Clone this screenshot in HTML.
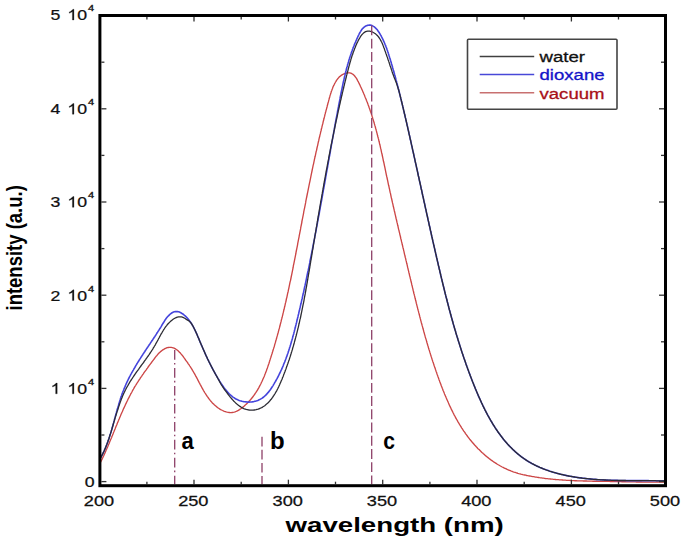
<!DOCTYPE html>
<html><head><meta charset="utf-8"><style>
html,body{margin:0;padding:0;background:#fff;overflow:hidden;width:685px;height:539px;}
svg{display:block;}
text{font-family:"Liberation Sans",sans-serif;}
.tl{font-size:15px;fill:#111;stroke:#111;stroke-width:0.25px;}
.xl{font-size:14px;fill:#111;stroke:#111;stroke-width:0.25px;}
.sup{font-size:9.3px;fill:#111;stroke:#111;stroke-width:0.35px;}
.lg{font-size:15px;}
.ab{font-size:24px;font-weight:bold;fill:#000;}
</style></head><body>
<svg width="685" height="539" viewBox="0 0 685 539">
<rect width="685" height="539" fill="#fff"/>
<g fill="none" stroke-linejoin="round">
<path d="M100.0,462.4 L100.7,461.9 L101.2,461.0 L101.6,460.1 L102.1,459.2 L102.5,458.3 L102.9,457.4 L103.3,456.5 L103.8,455.6 L104.2,454.7 L104.6,453.8 L105.0,452.9 L105.4,452.0 L105.8,451.0 L106.2,450.1 L106.6,449.2 L107.0,448.3 L107.4,447.4 L107.8,446.5 L108.2,445.5 L108.6,444.6 L109.0,443.7 L109.4,442.8 L109.7,441.8 L110.1,440.9 L110.5,440.0 L110.9,439.1 L111.3,438.2 L111.7,437.2 L112.0,436.3 L112.4,435.4 L112.8,434.4 L113.2,433.5 L113.5,432.6 L113.9,431.7 L114.3,430.7 L114.7,429.8 L115.1,428.9 L115.4,428.0 L115.8,427.0 L116.2,426.1 L116.6,425.2 L117.0,424.3 L117.3,423.3 L117.7,422.4 L118.1,421.5 L118.5,420.6 L118.9,419.6 L119.3,418.7 L119.6,417.8 L120.0,416.9 L120.4,416.0 L120.8,415.0 L121.2,414.1 L121.6,413.2 L122.0,412.3 L122.4,411.4 L122.8,410.4 L123.2,409.5 L123.6,408.6 L124.1,407.7 L124.5,406.8 L124.9,405.9 L125.3,405.0 L125.7,404.1 L126.2,403.2 L126.6,402.3 L127.0,401.4 L127.5,400.5 L127.9,399.6 L128.3,398.7 L128.8,397.8 L129.3,396.9 L129.7,396.0 L130.2,395.1 L130.6,394.2 L131.1,393.3 L131.6,392.5 L132.1,391.6 L132.5,390.7 L133.0,389.8 L133.5,389.0 L134.0,388.1 L134.5,387.2 L135.0,386.4 L135.6,385.5 L136.1,384.7 L136.6,383.8 L137.1,383.0 L137.7,382.1 L138.2,381.3 L138.8,380.4 L139.3,379.6 L139.9,378.8 L140.4,377.9 L141.0,377.1 L141.6,376.3 L142.1,375.5 L142.7,374.6 L143.3,373.8 L143.8,373.0 L144.4,372.2 L145.0,371.4 L145.6,370.6 L146.2,369.8 L146.8,368.9 L147.4,368.1 L147.9,367.3 L148.5,366.5 L149.1,365.7 L149.7,364.9 L150.3,364.1 L150.9,363.3 L151.5,362.5 L152.1,361.7 L152.7,360.9 L153.3,360.1 L153.9,359.3 L154.5,358.5 L155.1,357.7 L155.7,356.9 L156.3,356.1 L157.0,355.4 L157.6,354.6 L158.3,353.8 L159.0,353.1 L159.7,352.4 L160.4,351.7 L161.2,351.1 L162.0,350.5 L162.8,349.9 L163.7,349.4 L164.5,348.9 L165.4,348.4 L166.3,348.0 L167.3,347.7 L168.3,347.5 L169.3,347.4 L170.3,347.3 L171.3,347.4 L172.2,347.6 L173.2,347.9 L174.1,348.2 L175.0,348.7 L175.9,349.2 L176.7,349.7 L177.5,350.3 L178.3,351.0 L179.0,351.7 L179.7,352.4 L180.4,353.1 L181.0,353.9 L181.7,354.7 L182.3,355.4 L182.9,356.2 L183.5,357.0 L184.1,357.9 L184.7,358.7 L185.2,359.5 L185.8,360.3 L186.4,361.1 L187.0,361.9 L187.6,362.7 L188.1,363.6 L188.7,364.4 L189.3,365.2 L189.8,366.0 L190.4,366.9 L190.9,367.7 L191.5,368.6 L192.0,369.4 L192.5,370.3 L193.0,371.1 L193.5,372.0 L194.0,372.9 L194.5,373.7 L195.0,374.6 L195.5,375.5 L195.9,376.4 L196.4,377.2 L196.9,378.1 L197.4,379.0 L197.8,379.9 L198.3,380.8 L198.7,381.7 L199.2,382.6 L199.7,383.4 L200.1,384.3 L200.6,385.2 L201.1,386.1 L201.6,387.0 L202.0,387.9 L202.5,388.7 L203.0,389.6 L203.5,390.5 L204.0,391.3 L204.5,392.2 L205.0,393.0 L205.6,393.9 L206.1,394.7 L206.7,395.6 L207.2,396.4 L207.8,397.2 L208.4,398.0 L209.0,398.8 L209.6,399.6 L210.2,400.4 L210.9,401.2 L211.5,401.9 L212.2,402.7 L212.9,403.4 L213.6,404.1 L214.3,404.8 L215.1,405.5 L215.8,406.1 L216.6,406.8 L217.4,407.4 L218.2,408.0 L219.0,408.5 L219.9,409.1 L220.7,409.6 L221.6,410.0 L222.5,410.5 L223.4,410.9 L224.3,411.3 L225.3,411.6 L226.2,411.9 L227.2,412.2 L228.2,412.4 L229.2,412.5 L230.2,412.6 L231.2,412.6 L232.2,412.5 L233.1,412.4 L234.1,412.2 L235.1,411.9 L236.0,411.5 L236.9,411.1 L237.8,410.7 L238.7,410.1 L239.5,409.6 L240.3,409.0 L241.2,408.5 L242.0,407.9 L242.7,407.2 L243.5,406.6 L244.3,406.0 L245.0,405.3 L245.8,404.6 L246.5,403.9 L247.2,403.2 L247.9,402.5 L248.6,401.8 L249.3,401.1 L250.0,400.3 L250.6,399.6 L251.3,398.8 L251.9,398.0 L252.5,397.3 L253.1,396.5 L253.7,395.7 L254.3,394.8 L254.9,394.0 L255.4,393.2 L256.0,392.4 L256.5,391.5 L257.1,390.7 L257.6,389.8 L258.1,388.9 L258.6,388.1 L259.1,387.2 L259.5,386.3 L260.0,385.4 L260.5,384.5 L260.9,383.7 L261.3,382.8 L261.8,381.8 L262.2,380.9 L262.6,380.0 L263.0,379.1 L263.4,378.2 L263.8,377.3 L264.2,376.4 L264.6,375.4 L264.9,374.5 L265.3,373.6 L265.7,372.6 L266.0,371.7 L266.4,370.8 L266.7,369.8 L267.0,368.9 L267.4,367.9 L267.7,367.0 L268.0,366.0 L268.4,365.1 L268.7,364.1 L269.0,363.2 L269.3,362.2 L269.6,361.3 L269.9,360.3 L270.2,359.4 L270.5,358.4 L270.8,357.5 L271.1,356.5 L271.4,355.6 L271.7,354.6 L272.0,353.7 L272.3,352.7 L272.6,351.8 L272.9,350.8 L273.2,349.8 L273.5,348.9 L273.8,347.9 L274.1,347.0 L274.4,346.0 L274.6,345.0 L274.9,344.1 L275.2,343.1 L275.5,342.2 L275.7,341.2 L276.0,340.2 L276.3,339.3 L276.6,338.3 L276.8,337.4 L277.1,336.4 L277.4,335.4 L277.6,334.5 L277.9,333.5 L278.2,332.5 L278.4,331.6 L278.7,330.6 L278.9,329.6 L279.2,328.7 L279.5,327.7 L279.7,326.7 L280.0,325.8 L280.2,324.8 L280.5,323.8 L280.7,322.9 L281.0,321.9 L281.2,320.9 L281.4,319.9 L281.7,319.0 L281.9,318.0 L282.2,317.0 L282.4,316.1 L282.7,315.1 L282.9,314.1 L283.1,313.1 L283.4,312.2 L283.6,311.2 L283.8,310.2 L284.1,309.3 L284.3,308.3 L284.5,307.3 L284.8,306.3 L285.0,305.4 L285.2,304.4 L285.4,303.4 L285.7,302.4 L285.9,301.5 L286.1,300.5 L286.3,299.5 L286.5,298.5 L286.8,297.6 L287.0,296.6 L287.2,295.6 L287.4,294.6 L287.6,293.6 L287.8,292.7 L288.1,291.7 L288.3,290.7 L288.5,289.7 L288.7,288.8 L288.9,287.8 L289.1,286.8 L289.3,285.8 L289.5,284.8 L289.7,283.9 L289.9,282.9 L290.1,281.9 L290.4,280.9 L290.6,280.0 L290.8,279.0 L291.0,278.0 L291.2,277.0 L291.4,276.0 L291.6,275.1 L291.8,274.1 L292.0,273.1 L292.2,272.1 L292.4,271.1 L292.6,270.1 L292.8,269.2 L293.0,268.2 L293.2,267.2 L293.3,266.2 L293.5,265.2 L293.7,264.3 L293.9,263.3 L294.1,262.3 L294.3,261.3 L294.5,260.3 L294.7,259.4 L294.9,258.4 L295.1,257.4 L295.3,256.4 L295.5,255.4 L295.7,254.4 L295.9,253.5 L296.0,252.5 L296.2,251.5 L296.4,250.5 L296.6,249.5 L296.8,248.6 L297.0,247.6 L297.2,246.6 L297.4,245.6 L297.6,244.6 L297.7,243.6 L297.9,242.7 L298.1,241.7 L298.3,240.7 L298.5,239.7 L298.7,238.7 L298.9,237.7 L299.1,236.8 L299.2,235.8 L299.4,234.8 L299.6,233.8 L299.8,232.8 L300.0,231.8 L300.2,230.9 L300.4,229.9 L300.6,228.9 L300.7,227.9 L300.9,226.9 L301.1,225.9 L301.3,225.0 L301.5,224.0 L301.7,223.0 L301.9,222.0 L302.0,221.0 L302.2,220.0 L302.4,219.1 L302.6,218.1 L302.8,217.1 L303.0,216.1 L303.2,215.1 L303.4,214.2 L303.6,213.2 L303.7,212.2 L303.9,211.2 L304.1,210.2 L304.3,209.2 L304.5,208.3 L304.7,207.3 L304.9,206.3 L305.1,205.3 L305.3,204.3 L305.5,203.4 L305.7,202.4 L305.8,201.4 L306.0,200.4 L306.2,199.4 L306.4,198.4 L306.6,197.5 L306.8,196.5 L307.0,195.5 L307.2,194.5 L307.4,193.5 L307.6,192.6 L307.8,191.6 L308.0,190.6 L308.2,189.6 L308.4,188.6 L308.6,187.6 L308.8,186.7 L309.0,185.7 L309.2,184.7 L309.4,183.7 L309.6,182.7 L309.8,181.8 L310.0,180.8 L310.2,179.8 L310.4,178.8 L310.6,177.8 L310.8,176.9 L311.0,175.9 L311.2,174.9 L311.4,173.9 L311.6,172.9 L311.8,172.0 L312.0,171.0 L312.2,170.0 L312.4,169.0 L312.6,168.1 L312.8,167.1 L313.0,166.1 L313.2,165.1 L313.5,164.1 L313.7,163.2 L313.9,162.2 L314.1,161.2 L314.3,160.2 L314.5,159.2 L314.7,158.3 L314.9,157.3 L315.2,156.3 L315.4,155.3 L315.6,154.4 L315.8,153.4 L316.0,152.4 L316.2,151.4 L316.5,150.5 L316.7,149.5 L316.9,148.5 L317.1,147.5 L317.3,146.6 L317.6,145.6 L317.8,144.6 L318.0,143.6 L318.2,142.6 L318.4,141.7 L318.7,140.7 L318.9,139.7 L319.1,138.7 L319.3,137.8 L319.6,136.8 L319.8,135.8 L320.0,134.9 L320.3,133.9 L320.5,132.9 L320.7,131.9 L321.0,131.0 L321.2,130.0 L321.4,129.0 L321.7,128.0 L321.9,127.1 L322.1,126.1 L322.4,125.1 L322.6,124.2 L322.9,123.2 L323.1,122.2 L323.3,121.2 L323.6,120.3 L323.8,119.3 L324.1,118.3 L324.3,117.4 L324.6,116.4 L324.8,115.4 L325.0,114.4 L325.3,113.5 L325.5,112.5 L325.8,111.5 L326.0,110.6 L326.3,109.6 L326.6,108.6 L326.8,107.7 L327.1,106.7 L327.3,105.7 L327.6,104.8 L327.8,103.8 L328.1,102.8 L328.4,101.9 L328.6,100.9 L328.9,99.9 L329.1,99.0 L329.4,98.0 L329.7,97.0 L329.9,96.1 L330.2,95.1 L330.5,94.2 L330.8,93.2 L331.1,92.3 L331.4,91.3 L331.8,90.4 L332.1,89.4 L332.5,88.5 L332.8,87.6 L333.2,86.6 L333.6,85.7 L334.1,84.8 L334.5,83.9 L335.0,83.0 L335.4,82.2 L336.0,81.3 L336.5,80.4 L337.1,79.6 L337.7,78.8 L338.3,78.1 L339.0,77.3 L339.7,76.6 L340.5,76.0 L341.3,75.4 L342.1,74.8 L343.0,74.3 L343.9,73.9 L344.8,73.5 L345.7,73.2 L346.7,73.0 L347.7,72.9 L348.7,72.8 L349.7,72.9 L350.7,73.2 L351.6,73.5 L352.5,74.0 L353.3,74.6 L354.0,75.2 L354.7,76.0 L355.3,76.8 L355.9,77.6 L356.5,78.4 L357.0,79.3 L357.4,80.2 L357.9,81.1 L358.4,81.9 L358.8,82.8 L359.2,83.7 L359.7,84.6 L360.1,85.5 L360.5,86.5 L361.0,87.4 L361.4,88.3 L361.8,89.2 L362.2,90.1 L362.6,91.0 L363.0,91.9 L363.4,92.8 L363.8,93.8 L364.2,94.7 L364.6,95.6 L364.9,96.5 L365.3,97.5 L365.7,98.4 L366.1,99.3 L366.4,100.2 L366.8,101.2 L367.2,102.1 L367.5,103.1 L367.9,104.0 L368.2,104.9 L368.6,105.9 L368.9,106.8 L369.2,107.7 L369.6,108.7 L369.9,109.6 L370.2,110.6 L370.5,111.5 L370.9,112.5 L371.2,113.4 L371.5,114.4 L371.8,115.3 L372.1,116.3 L372.4,117.2 L372.7,118.2 L373.0,119.1 L373.3,120.1 L373.6,121.1 L373.9,122.0 L374.2,123.0 L374.4,123.9 L374.7,124.9 L375.0,125.9 L375.3,126.8 L375.5,127.8 L375.8,128.8 L376.1,129.7 L376.3,130.7 L376.6,131.6 L376.8,132.6 L377.1,133.6 L377.3,134.6 L377.6,135.5 L377.8,136.5 L378.1,137.5 L378.3,138.4 L378.6,139.4 L378.8,140.4 L379.0,141.3 L379.3,142.3 L379.5,143.3 L379.7,144.3 L380.0,145.2 L380.2,146.2 L380.4,147.2 L380.6,148.2 L380.9,149.1 L381.1,150.1 L381.3,151.1 L381.5,152.1 L381.7,153.0 L382.0,154.0 L382.2,155.0 L382.4,156.0 L382.6,157.0 L382.8,157.9 L383.0,158.9 L383.2,159.9 L383.4,160.9 L383.6,161.8 L383.9,162.8 L384.1,163.8 L384.3,164.8 L384.5,165.8 L384.7,166.7 L384.9,167.7 L385.1,168.7 L385.3,169.7 L385.5,170.7 L385.7,171.6 L385.9,172.6 L386.1,173.6 L386.3,174.6 L386.5,175.5 L386.7,176.5 L387.0,177.5 L387.2,178.5 L387.4,179.5 L387.6,180.4 L387.8,181.4 L388.0,182.4 L388.2,183.4 L388.4,184.4 L388.6,185.3 L388.9,186.3 L389.1,187.3 L389.3,188.3 L389.5,189.2 L389.7,190.2 L389.9,191.2 L390.1,192.2 L390.4,193.1 L390.6,194.1 L390.8,195.1 L391.0,196.1 L391.2,197.1 L391.4,198.0 L391.7,199.0 L391.9,200.0 L392.1,201.0 L392.3,201.9 L392.5,202.9 L392.8,203.9 L393.0,204.9 L393.2,205.8 L393.4,206.8 L393.7,207.8 L393.9,208.8 L394.1,209.7 L394.3,210.7 L394.6,211.7 L394.8,212.7 L395.0,213.6 L395.2,214.6 L395.5,215.6 L395.7,216.6 L395.9,217.5 L396.1,218.5 L396.4,219.5 L396.6,220.5 L396.8,221.4 L397.0,222.4 L397.3,223.4 L397.5,224.4 L397.7,225.3 L398.0,226.3 L398.2,227.3 L398.4,228.3 L398.6,229.2 L398.9,230.2 L399.1,231.2 L399.3,232.1 L399.6,233.1 L399.8,234.1 L400.0,235.1 L400.3,236.0 L400.5,237.0 L400.7,238.0 L400.9,239.0 L401.2,239.9 L401.4,240.9 L401.6,241.9 L401.9,242.9 L402.1,243.8 L402.3,244.8 L402.6,245.8 L402.8,246.8 L403.0,247.7 L403.3,248.7 L403.5,249.7 L403.7,250.6 L404.0,251.6 L404.2,252.6 L404.4,253.6 L404.6,254.5 L404.9,255.5 L405.1,256.5 L405.3,257.5 L405.6,258.4 L405.8,259.4 L406.0,260.4 L406.3,261.4 L406.5,262.3 L406.7,263.3 L407.0,264.3 L407.2,265.2 L407.4,266.2 L407.6,267.2 L407.9,268.2 L408.1,269.1 L408.3,270.1 L408.6,271.1 L408.8,272.1 L409.0,273.0 L409.3,274.0 L409.5,275.0 L409.7,276.0 L410.0,276.9 L410.2,277.9 L410.4,278.9 L410.7,279.8 L410.9,280.8 L411.1,281.8 L411.4,282.8 L411.6,283.7 L411.8,284.7 L412.1,285.7 L412.3,286.7 L412.5,287.6 L412.8,288.6 L413.0,289.6 L413.2,290.5 L413.5,291.5 L413.7,292.5 L413.9,293.5 L414.2,294.4 L414.4,295.4 L414.7,296.4 L414.9,297.4 L415.1,298.3 L415.4,299.3 L415.6,300.3 L415.9,301.2 L416.1,302.2 L416.3,303.2 L416.6,304.1 L416.8,305.1 L417.1,306.1 L417.3,307.1 L417.6,308.0 L417.8,309.0 L418.1,310.0 L418.3,310.9 L418.6,311.9 L418.8,312.9 L419.1,313.8 L419.3,314.8 L419.6,315.8 L419.8,316.7 L420.1,317.7 L420.3,318.7 L420.6,319.6 L420.8,320.6 L421.1,321.6 L421.3,322.5 L421.6,323.5 L421.9,324.5 L422.1,325.4 L422.4,326.4 L422.7,327.4 L422.9,328.3 L423.2,329.3 L423.5,330.3 L423.7,331.2 L424.0,332.2 L424.3,333.2 L424.5,334.1 L424.8,335.1 L425.1,336.1 L425.3,337.0 L425.6,338.0 L425.9,338.9 L426.2,339.9 L426.5,340.9 L426.7,341.8 L427.0,342.8 L427.3,343.7 L427.6,344.7 L427.9,345.7 L428.2,346.6 L428.4,347.6 L428.7,348.5 L429.0,349.5 L429.3,350.4 L429.6,351.4 L429.9,352.4 L430.2,353.3 L430.5,354.3 L430.8,355.2 L431.1,356.2 L431.4,357.1 L431.7,358.1 L432.0,359.0 L432.3,360.0 L432.6,360.9 L432.9,361.9 L433.3,362.8 L433.6,363.8 L433.9,364.7 L434.2,365.7 L434.5,366.6 L434.8,367.6 L435.2,368.5 L435.5,369.5 L435.8,370.4 L436.1,371.4 L436.5,372.3 L436.8,373.3 L437.1,374.2 L437.5,375.2 L437.8,376.1 L438.1,377.0 L438.5,378.0 L438.8,378.9 L439.1,379.9 L439.5,380.8 L439.8,381.7 L440.2,382.7 L440.5,383.6 L440.9,384.5 L441.2,385.5 L441.6,386.4 L442.0,387.4 L442.3,388.3 L442.7,389.2 L443.0,390.2 L443.4,391.1 L443.8,392.0 L444.2,392.9 L444.5,393.9 L444.9,394.8 L445.3,395.7 L445.7,396.6 L446.1,397.6 L446.5,398.5 L446.9,399.4 L447.3,400.3 L447.7,401.2 L448.1,402.1 L448.5,403.1 L448.9,404.0 L449.3,404.9 L449.7,405.8 L450.1,406.7 L450.6,407.6 L451.0,408.5 L451.4,409.4 L451.9,410.3 L452.3,411.2 L452.8,412.1 L453.2,413.0 L453.7,413.9 L454.1,414.8 L454.6,415.7 L455.1,416.5 L455.5,417.4 L456.0,418.3 L456.5,419.2 L457.0,420.0 L457.5,420.9 L458.0,421.8 L458.5,422.6 L459.0,423.5 L459.5,424.4 L460.0,425.2 L460.6,426.1 L461.1,426.9 L461.6,427.8 L462.2,428.6 L462.7,429.4 L463.3,430.3 L463.8,431.1 L464.4,431.9 L465.0,432.7 L465.5,433.6 L466.1,434.4 L466.7,435.2 L467.3,436.0 L467.9,436.8 L468.5,437.6 L469.1,438.4 L469.7,439.2 L470.4,440.0 L471.0,440.7 L471.6,441.5 L472.3,442.3 L472.9,443.0 L473.6,443.8 L474.2,444.5 L474.9,445.3 L475.6,446.0 L476.3,446.8 L477.0,447.5 L477.6,448.2 L478.3,448.9 L479.1,449.6 L479.8,450.3 L480.5,451.0 L481.2,451.7 L481.9,452.4 L482.7,453.1 L483.4,453.8 L484.2,454.4 L484.9,455.1 L485.7,455.7 L486.4,456.4 L487.2,457.0 L488.0,457.6 L488.8,458.2 L489.6,458.9 L490.4,459.5 L491.2,460.1 L492.0,460.6 L492.8,461.2 L493.6,461.8 L494.5,462.3 L495.3,462.9 L496.1,463.4 L497.0,464.0 L497.8,464.5 L498.7,465.0 L499.6,465.5 L500.4,466.0 L501.3,466.5 L502.2,467.0 L503.1,467.4 L504.0,467.9 L504.9,468.3 L505.8,468.7 L506.7,469.2 L507.6,469.6 L508.5,470.0 L509.4,470.3 L510.4,470.7 L511.3,471.1 L512.2,471.4 L513.2,471.8 L514.1,472.1 L515.1,472.4 L516.0,472.7 L517.0,473.0 L517.9,473.3 L518.9,473.6 L519.9,473.8 L520.8,474.1 L521.8,474.3 L522.8,474.6 L523.8,474.8 L524.7,475.0 L525.7,475.2 L526.7,475.5 L527.7,475.7 L528.6,475.9 L529.6,476.0 L530.6,476.2 L531.6,476.4 L532.6,476.6 L533.6,476.7 L534.6,476.9 L535.5,477.1 L536.5,477.2 L537.5,477.4 L538.5,477.5 L539.5,477.7 L540.5,477.8 L541.5,477.9 L542.5,478.1 L543.5,478.2 L544.5,478.3 L545.4,478.5 L546.4,478.6 L547.4,478.7 L548.4,478.8 L549.4,478.9 L550.4,479.0 L551.4,479.1 L552.4,479.2 L553.4,479.3 L554.4,479.4 L555.4,479.5 L556.4,479.6 L557.4,479.6 L558.4,479.7 L559.4,479.8 L560.4,479.9 L561.4,479.9 L562.4,480.0 L563.4,480.1 L564.4,480.1 L565.4,480.2 L566.4,480.3 L567.4,480.3 L568.4,480.4 L569.4,480.4 L570.4,480.5 L571.4,480.5 L572.4,480.6 L573.4,480.6 L574.4,480.7 L575.4,480.7 L576.4,480.7 L577.4,480.8 L578.4,480.8 L579.4,480.8 L580.4,480.9 L581.4,480.9 L582.4,480.9 L583.4,481.0 L584.4,481.0 L585.4,481.0 L586.4,481.0 L587.4,481.1 L588.4,481.1 L589.4,481.1 L590.4,481.1 L591.4,481.1 L592.4,481.2 L593.4,481.2 L594.4,481.2 L595.4,481.2 L596.4,481.2 L597.4,481.3 L598.4,481.3 L599.4,481.3 L600.4,481.3 L601.4,481.3 L602.4,481.3 L603.4,481.3 L604.4,481.4 L605.4,481.4 L606.4,481.4 L607.4,481.4 L608.4,481.4 L609.4,481.4 L610.4,481.5 L611.4,481.5 L612.4,481.5 L613.4,481.5 L614.4,481.5 L615.4,481.5 L616.4,481.6 L617.4,481.6 L618.4,481.6 L619.4,481.6 L620.4,481.6 L621.4,481.7 L622.4,481.7 L623.4,481.7 L624.4,481.7 L625.4,481.7 L626.4,481.8 L627.4,481.8 L628.4,481.8 L629.4,481.8 L630.4,481.8 L631.4,481.9 L632.4,481.9 L633.4,481.9 L634.4,481.9 L635.4,481.9 L636.4,482.0 L637.4,482.0 L638.4,482.0 L639.4,482.0 L640.4,482.0 L641.4,482.0 L642.4,482.1 L643.4,482.1 L644.4,482.1 L645.4,482.1 L646.4,482.1 L647.4,482.1 L648.4,482.1 L649.4,482.1 L650.4,482.1 L651.4,482.1 L652.4,482.1 L653.4,482.1 L654.4,482.1 L655.4,482.1 L656.4,482.1 L657.4,482.1 L658.4,482.1 L659.4,482.1 L660.4,482.1 L661.4,482.1 L662.4,482.1 L663.4,482.1 L664.4,482.1 L665.4,482.1" stroke="#cc4646" stroke-width="1.35"/>
<path d="M100.0,458.6 L100.6,457.9 L101.1,457.0 L101.5,456.2 L102.0,455.3 L102.5,454.4 L102.9,453.5 L103.3,452.6 L103.8,451.7 L104.2,450.8 L104.6,449.8 L105.0,448.9 L105.4,448.0 L105.8,447.1 L106.1,446.2 L106.5,445.2 L106.9,444.3 L107.2,443.4 L107.6,442.4 L107.9,441.5 L108.2,440.5 L108.6,439.6 L108.9,438.7 L109.2,437.7 L109.5,436.8 L109.8,435.8 L110.1,434.8 L110.4,433.9 L110.7,432.9 L111.0,432.0 L111.3,431.0 L111.6,430.1 L111.9,429.1 L112.2,428.1 L112.4,427.2 L112.7,426.2 L113.0,425.3 L113.2,424.3 L113.5,423.3 L113.8,422.4 L114.0,421.4 L114.3,420.4 L114.5,419.5 L114.8,418.5 L115.1,417.5 L115.3,416.6 L115.6,415.6 L115.9,414.6 L116.1,413.7 L116.4,412.7 L116.6,411.7 L116.9,410.8 L117.2,409.8 L117.4,408.8 L117.7,407.9 L118.0,406.9 L118.3,406.0 L118.6,405.0 L118.8,404.0 L119.1,403.1 L119.4,402.1 L119.7,401.2 L120.0,400.2 L120.3,399.3 L120.6,398.3 L120.9,397.4 L121.3,396.4 L121.6,395.5 L121.9,394.5 L122.2,393.6 L122.6,392.6 L122.9,391.7 L123.3,390.8 L123.7,389.8 L124.0,388.9 L124.4,388.0 L124.8,387.1 L125.2,386.1 L125.6,385.2 L126.0,384.3 L126.4,383.4 L126.8,382.5 L127.2,381.6 L127.7,380.7 L128.1,379.8 L128.5,378.9 L129.0,378.0 L129.4,377.1 L129.9,376.2 L130.4,375.3 L130.8,374.4 L131.3,373.6 L131.8,372.7 L132.3,371.8 L132.8,370.9 L133.3,370.1 L133.8,369.2 L134.3,368.3 L134.8,367.5 L135.3,366.6 L135.8,365.7 L136.3,364.9 L136.8,364.0 L137.3,363.2 L137.8,362.3 L138.4,361.5 L138.9,360.6 L139.4,359.8 L140.0,358.9 L140.5,358.1 L141.0,357.2 L141.6,356.4 L142.1,355.6 L142.7,354.7 L143.2,353.9 L143.8,353.0 L144.3,352.2 L144.9,351.4 L145.4,350.5 L146.0,349.7 L146.5,348.9 L147.1,348.0 L147.6,347.2 L148.2,346.4 L148.8,345.5 L149.3,344.7 L149.9,343.9 L150.4,343.1 L151.0,342.2 L151.5,341.4 L152.1,340.6 L152.7,339.7 L153.2,338.9 L153.8,338.1 L154.3,337.2 L154.9,336.4 L155.4,335.6 L156.0,334.7 L156.5,333.9 L157.0,333.0 L157.6,332.2 L158.1,331.4 L158.7,330.5 L159.2,329.7 L159.7,328.8 L160.3,328.0 L160.8,327.1 L161.3,326.3 L161.8,325.4 L162.3,324.5 L162.8,323.7 L163.4,322.8 L163.9,322.0 L164.4,321.1 L164.9,320.3 L165.5,319.4 L166.1,318.6 L166.7,317.8 L167.3,317.1 L168.0,316.3 L168.7,315.6 L169.4,314.9 L170.1,314.2 L170.9,313.6 L171.7,313.0 L172.6,312.5 L173.5,312.1 L174.4,311.8 L175.4,311.6 L176.4,311.5 L177.4,311.6 L178.4,311.8 L179.4,312.1 L180.3,312.5 L181.2,312.9 L182.0,313.5 L182.9,314.0 L183.7,314.6 L184.4,315.3 L185.2,315.9 L185.9,316.6 L186.6,317.3 L187.3,318.1 L187.9,318.8 L188.6,319.6 L189.2,320.4 L189.8,321.2 L190.4,322.0 L190.9,322.8 L191.5,323.7 L192.0,324.5 L192.5,325.4 L193.0,326.2 L193.5,327.1 L194.0,328.0 L194.4,328.9 L194.9,329.8 L195.3,330.7 L195.7,331.6 L196.1,332.5 L196.5,333.4 L196.9,334.3 L197.3,335.3 L197.7,336.2 L198.1,337.1 L198.5,338.0 L198.9,338.9 L199.2,339.9 L199.6,340.8 L200.0,341.7 L200.4,342.6 L200.8,343.6 L201.2,344.5 L201.6,345.4 L202.0,346.3 L202.4,347.2 L202.8,348.2 L203.2,349.1 L203.6,350.0 L204.0,350.9 L204.4,351.8 L204.8,352.7 L205.2,353.6 L205.6,354.6 L206.0,355.5 L206.4,356.4 L206.9,357.3 L207.3,358.2 L207.7,359.1 L208.2,360.0 L208.6,360.9 L209.0,361.8 L209.5,362.7 L209.9,363.6 L210.4,364.5 L210.8,365.4 L211.3,366.3 L211.7,367.1 L212.2,368.0 L212.7,368.9 L213.1,369.8 L213.6,370.7 L214.1,371.6 L214.6,372.4 L215.1,373.3 L215.5,374.2 L216.0,375.1 L216.5,375.9 L217.0,376.8 L217.5,377.7 L218.0,378.5 L218.6,379.4 L219.1,380.2 L219.6,381.1 L220.1,381.9 L220.7,382.8 L221.2,383.6 L221.8,384.5 L222.3,385.3 L222.9,386.1 L223.5,386.9 L224.0,387.7 L224.6,388.5 L225.3,389.3 L225.9,390.1 L226.5,390.9 L227.2,391.6 L227.8,392.4 L228.5,393.1 L229.2,393.8 L230.0,394.5 L230.7,395.2 L231.5,395.8 L232.2,396.5 L233.0,397.1 L233.9,397.6 L234.7,398.2 L235.6,398.7 L236.4,399.2 L237.3,399.6 L238.2,400.0 L239.2,400.4 L240.1,400.7 L241.1,401.0 L242.0,401.3 L243.0,401.5 L244.0,401.7 L245.0,401.8 L246.0,401.9 L247.0,402.0 L248.0,402.1 L249.0,402.1 L250.0,402.0 L251.0,402.0 L252.0,401.9 L253.0,401.7 L253.9,401.6 L254.9,401.3 L255.9,401.1 L256.8,400.8 L257.8,400.4 L258.7,400.0 L259.6,399.6 L260.5,399.1 L261.3,398.6 L262.2,398.1 L263.0,397.5 L263.8,396.9 L264.5,396.2 L265.3,395.6 L266.0,394.9 L266.7,394.1 L267.4,393.4 L268.0,392.6 L268.7,391.9 L269.3,391.1 L269.9,390.3 L270.5,389.5 L271.0,388.7 L271.6,387.8 L272.1,387.0 L272.7,386.1 L273.2,385.3 L273.7,384.4 L274.2,383.6 L274.7,382.7 L275.2,381.9 L275.7,381.0 L276.2,380.1 L276.7,379.2 L277.2,378.3 L277.6,377.5 L278.1,376.6 L278.6,375.7 L279.0,374.8 L279.4,373.9 L279.9,373.0 L280.3,372.1 L280.7,371.2 L281.1,370.3 L281.6,369.4 L282.0,368.4 L282.4,367.5 L282.8,366.6 L283.2,365.7 L283.5,364.8 L283.9,363.8 L284.3,362.9 L284.7,362.0 L285.0,361.1 L285.4,360.1 L285.7,359.2 L286.1,358.2 L286.4,357.3 L286.8,356.4 L287.1,355.4 L287.4,354.5 L287.8,353.5 L288.1,352.6 L288.4,351.6 L288.7,350.7 L289.0,349.7 L289.3,348.8 L289.6,347.8 L289.9,346.9 L290.2,345.9 L290.5,345.0 L290.8,344.0 L291.1,343.0 L291.4,342.1 L291.6,341.1 L291.9,340.2 L292.2,339.2 L292.5,338.2 L292.7,337.3 L293.0,336.3 L293.2,335.3 L293.5,334.4 L293.8,333.4 L294.0,332.4 L294.3,331.5 L294.5,330.5 L294.8,329.5 L295.0,328.6 L295.3,327.6 L295.5,326.6 L295.7,325.7 L296.0,324.7 L296.2,323.7 L296.5,322.7 L296.7,321.8 L296.9,320.8 L297.2,319.8 L297.4,318.8 L297.6,317.9 L297.9,316.9 L298.1,315.9 L298.3,315.0 L298.6,314.0 L298.8,313.0 L299.0,312.0 L299.3,311.1 L299.5,310.1 L299.7,309.1 L299.9,308.1 L300.2,307.2 L300.4,306.2 L300.6,305.2 L300.8,304.2 L301.1,303.3 L301.3,302.3 L301.5,301.3 L301.7,300.3 L301.9,299.4 L302.2,298.4 L302.4,297.4 L302.6,296.4 L302.8,295.5 L303.0,294.5 L303.2,293.5 L303.5,292.5 L303.7,291.6 L303.9,290.6 L304.1,289.6 L304.3,288.6 L304.5,287.6 L304.7,286.7 L305.0,285.7 L305.2,284.7 L305.4,283.7 L305.6,282.8 L305.8,281.8 L306.0,280.8 L306.2,279.8 L306.4,278.8 L306.6,277.9 L306.8,276.9 L307.0,275.9 L307.2,274.9 L307.4,273.9 L307.6,273.0 L307.8,272.0 L308.1,271.0 L308.3,270.0 L308.5,269.0 L308.7,268.1 L308.9,267.1 L309.1,266.1 L309.3,265.1 L309.5,264.1 L309.7,263.2 L309.9,262.2 L310.0,261.2 L310.2,260.2 L310.4,259.2 L310.6,258.3 L310.8,257.3 L311.0,256.3 L311.2,255.3 L311.4,254.3 L311.6,253.4 L311.8,252.4 L312.0,251.4 L312.2,250.4 L312.4,249.4 L312.6,248.4 L312.8,247.5 L313.0,246.5 L313.2,245.5 L313.3,244.5 L313.5,243.5 L313.7,242.6 L313.9,241.6 L314.1,240.6 L314.3,239.6 L314.5,238.6 L314.7,237.6 L314.8,236.7 L315.0,235.7 L315.2,234.7 L315.4,233.7 L315.6,232.7 L315.8,231.7 L316.0,230.8 L316.2,229.8 L316.3,228.8 L316.5,227.8 L316.7,226.8 L316.9,225.8 L317.1,224.9 L317.3,223.9 L317.4,222.9 L317.6,221.9 L317.8,220.9 L318.0,219.9 L318.2,219.0 L318.3,218.0 L318.5,217.0 L318.7,216.0 L318.9,215.0 L319.1,214.0 L319.3,213.1 L319.4,212.1 L319.6,211.1 L319.8,210.1 L320.0,209.1 L320.1,208.1 L320.3,207.2 L320.5,206.2 L320.7,205.2 L320.9,204.2 L321.0,203.2 L321.2,202.2 L321.4,201.3 L321.6,200.3 L321.8,199.3 L321.9,198.3 L322.1,197.3 L322.3,196.3 L322.5,195.3 L322.6,194.4 L322.8,193.4 L323.0,192.4 L323.2,191.4 L323.3,190.4 L323.5,189.4 L323.7,188.5 L323.9,187.5 L324.0,186.5 L324.2,185.5 L324.4,184.5 L324.6,183.5 L324.8,182.5 L324.9,181.6 L325.1,180.6 L325.3,179.6 L325.5,178.6 L325.6,177.6 L325.8,176.6 L326.0,175.7 L326.2,174.7 L326.3,173.7 L326.5,172.7 L326.7,171.7 L326.9,170.7 L327.0,169.7 L327.2,168.8 L327.4,167.8 L327.6,166.8 L327.7,165.8 L327.9,164.8 L328.1,163.8 L328.3,162.8 L328.4,161.9 L328.6,160.9 L328.8,159.9 L329.0,158.9 L329.1,157.9 L329.3,156.9 L329.5,156.0 L329.7,155.0 L329.8,154.0 L330.0,153.0 L330.2,152.0 L330.4,151.0 L330.5,150.0 L330.7,149.1 L330.9,148.1 L331.1,147.1 L331.2,146.1 L331.4,145.1 L331.6,144.1 L331.8,143.2 L332.0,142.2 L332.1,141.2 L332.3,140.2 L332.5,139.2 L332.7,138.2 L332.8,137.2 L333.0,136.3 L333.2,135.3 L333.4,134.3 L333.6,133.3 L333.7,132.3 L333.9,131.3 L334.1,130.4 L334.3,129.4 L334.4,128.4 L334.6,127.4 L334.8,126.4 L335.0,125.4 L335.2,124.5 L335.3,123.5 L335.5,122.5 L335.7,121.5 L335.9,120.5 L336.1,119.5 L336.3,118.5 L336.4,117.6 L336.6,116.6 L336.8,115.6 L337.0,114.6 L337.2,113.6 L337.4,112.6 L337.5,111.7 L337.7,110.7 L337.9,109.7 L338.1,108.7 L338.3,107.7 L338.5,106.7 L338.6,105.8 L338.8,104.8 L339.0,103.8 L339.2,102.8 L339.4,101.8 L339.6,100.9 L339.8,99.9 L340.0,98.9 L340.1,97.9 L340.3,96.9 L340.5,95.9 L340.7,95.0 L340.9,94.0 L341.1,93.0 L341.3,92.0 L341.5,91.0 L341.7,90.1 L341.9,89.1 L342.1,88.1 L342.3,87.1 L342.5,86.1 L342.7,85.2 L342.9,84.2 L343.1,83.2 L343.3,82.2 L343.5,81.2 L343.8,80.3 L344.0,79.3 L344.2,78.3 L344.4,77.3 L344.6,76.4 L344.9,75.4 L345.1,74.4 L345.3,73.4 L345.6,72.5 L345.8,71.5 L346.1,70.5 L346.3,69.6 L346.6,68.6 L346.8,67.6 L347.1,66.7 L347.4,65.7 L347.6,64.7 L347.9,63.8 L348.2,62.8 L348.5,61.9 L348.7,60.9 L349.0,59.9 L349.3,59.0 L349.6,58.0 L349.9,57.1 L350.2,56.1 L350.6,55.2 L350.9,54.2 L351.2,53.3 L351.5,52.3 L351.9,51.4 L352.2,50.5 L352.5,49.5 L352.9,48.6 L353.2,47.6 L353.6,46.7 L354.0,45.8 L354.3,44.8 L354.7,43.9 L355.1,43.0 L355.5,42.1 L355.9,41.1 L356.3,40.2 L356.7,39.3 L357.1,38.4 L357.5,37.5 L357.9,36.6 L358.3,35.7 L358.8,34.8 L359.2,33.9 L359.7,33.0 L360.2,32.1 L360.7,31.3 L361.2,30.4 L361.8,29.6 L362.4,28.8 L363.1,28.1 L363.8,27.4 L364.6,26.8 L365.4,26.2 L366.3,25.8 L367.3,25.4 L368.2,25.2 L369.2,25.1 L370.2,25.1 L371.2,25.3 L372.1,25.6 L373.0,26.1 L373.9,26.6 L374.7,27.2 L375.4,27.9 L376.1,28.6 L376.8,29.3 L377.4,30.1 L378.0,30.9 L378.6,31.7 L379.1,32.6 L379.7,33.4 L380.2,34.3 L380.7,35.2 L381.2,36.0 L381.6,36.9 L382.1,37.8 L382.5,38.7 L383.0,39.6 L383.4,40.5 L383.8,41.4 L384.2,42.3 L384.6,43.2 L385.0,44.2 L385.4,45.1 L385.8,46.0 L386.1,47.0 L386.5,47.9 L386.8,48.8 L387.1,49.8 L387.5,50.7 L387.8,51.7 L388.1,52.6 L388.4,53.6 L388.7,54.5 L389.0,55.5 L389.3,56.4 L389.6,57.4 L389.9,58.3 L390.2,59.3 L390.5,60.3 L390.8,61.2 L391.1,62.2 L391.3,63.1 L391.6,64.1 L391.9,65.0 L392.2,66.0 L392.5,67.0 L392.7,67.9 L393.0,68.9 L393.3,69.9 L393.6,70.8 L393.8,71.8 L394.1,72.7 L394.4,73.7 L394.6,74.7 L394.9,75.6 L395.2,76.6 L395.4,77.6 L395.7,78.5 L395.9,79.5 L396.2,80.5 L396.5,81.4 L396.7,82.4 L397.0,83.4 L397.2,84.3 L397.5,85.3 L397.7,86.3 L398.0,87.2 L398.2,88.2 L398.5,89.2 L398.7,90.1 L399.0,91.1 L399.2,92.1 L399.5,93.1 L399.7,94.0 L400.0,95.0 L400.2,96.0 L400.4,96.9 L400.7,97.9 L400.9,98.9 L401.2,99.8 L401.4,100.8 L401.6,101.8 L401.9,102.8 L402.1,103.7 L402.3,104.7 L402.6,105.7 L402.8,106.7 L403.0,107.6 L403.3,108.6 L403.5,109.6 L403.7,110.5 L404.0,111.5 L404.2,112.5 L404.4,113.5 L404.7,114.4 L404.9,115.4 L405.1,116.4 L405.3,117.4 L405.6,118.3 L405.8,119.3 L406.0,120.3 L406.2,121.3 L406.5,122.2 L406.7,123.2 L406.9,124.2 L407.1,125.2 L407.4,126.1 L407.6,127.1 L407.8,128.1 L408.0,129.1 L408.2,130.0 L408.5,131.0 L408.7,132.0 L408.9,133.0 L409.1,133.9 L409.3,134.9 L409.6,135.9 L409.8,136.9 L410.0,137.8 L410.2,138.8 L410.4,139.8 L410.7,140.8 L410.9,141.8 L411.1,142.7 L411.3,143.7 L411.5,144.7 L411.7,145.7 L412.0,146.6 L412.2,147.6 L412.4,148.6 L412.6,149.6 L412.8,150.5 L413.0,151.5 L413.3,152.5 L413.5,153.5 L413.7,154.4 L413.9,155.4 L414.1,156.4 L414.3,157.4 L414.6,158.4 L414.8,159.3 L415.0,160.3 L415.2,161.3 L415.4,162.3 L415.6,163.2 L415.9,164.2 L416.1,165.2 L416.3,166.2 L416.5,167.1 L416.7,168.1 L416.9,169.1 L417.2,170.1 L417.4,171.1 L417.6,172.0 L417.8,173.0 L418.0,174.0 L418.2,175.0 L418.4,175.9 L418.7,176.9 L418.9,177.9 L419.1,178.9 L419.3,179.8 L419.5,180.8 L419.7,181.8 L419.9,182.8 L420.2,183.8 L420.4,184.7 L420.6,185.7 L420.8,186.7 L421.0,187.7 L421.2,188.6 L421.4,189.6 L421.7,190.6 L421.9,191.6 L422.1,192.5 L422.3,193.5 L422.5,194.5 L422.7,195.5 L423.0,196.5 L423.2,197.4 L423.4,198.4 L423.6,199.4 L423.8,200.4 L424.0,201.3 L424.2,202.3 L424.5,203.3 L424.7,204.3 L424.9,205.2 L425.1,206.2 L425.3,207.2 L425.5,208.2 L425.8,209.2 L426.0,210.1 L426.2,211.1 L426.4,212.1 L426.6,213.1 L426.8,214.0 L427.0,215.0 L427.3,216.0 L427.5,217.0 L427.7,217.9 L427.9,218.9 L428.1,219.9 L428.3,220.9 L428.6,221.8 L428.8,222.8 L429.0,223.8 L429.2,224.8 L429.4,225.8 L429.7,226.7 L429.9,227.7 L430.1,228.7 L430.3,229.7 L430.5,230.6 L430.7,231.6 L431.0,232.6 L431.2,233.6 L431.4,234.5 L431.6,235.5 L431.8,236.5 L432.1,237.5 L432.3,238.4 L432.5,239.4 L432.7,240.4 L432.9,241.4 L433.2,242.3 L433.4,243.3 L433.6,244.3 L433.8,245.3 L434.0,246.2 L434.3,247.2 L434.5,248.2 L434.7,249.2 L434.9,250.1 L435.2,251.1 L435.4,252.1 L435.6,253.1 L435.8,254.0 L436.1,255.0 L436.3,256.0 L436.5,257.0 L436.7,257.9 L437.0,258.9 L437.2,259.9 L437.4,260.9 L437.6,261.8 L437.9,262.8 L438.1,263.8 L438.3,264.8 L438.5,265.7 L438.8,266.7 L439.0,267.7 L439.2,268.7 L439.4,269.6 L439.7,270.6 L439.9,271.6 L440.1,272.6 L440.4,273.5 L440.6,274.5 L440.8,275.5 L441.1,276.5 L441.3,277.4 L441.5,278.4 L441.8,279.4 L442.0,280.3 L442.2,281.3 L442.5,282.3 L442.7,283.3 L442.9,284.2 L443.2,285.2 L443.4,286.2 L443.6,287.1 L443.9,288.1 L444.1,289.1 L444.4,290.1 L444.6,291.0 L444.8,292.0 L445.1,293.0 L445.3,293.9 L445.6,294.9 L445.8,295.9 L446.1,296.9 L446.3,297.8 L446.6,298.8 L446.8,299.8 L447.1,300.7 L447.3,301.7 L447.6,302.7 L447.8,303.6 L448.1,304.6 L448.3,305.6 L448.6,306.5 L448.8,307.5 L449.1,308.5 L449.3,309.4 L449.6,310.4 L449.9,311.4 L450.1,312.3 L450.4,313.3 L450.6,314.3 L450.9,315.2 L451.2,316.2 L451.4,317.2 L451.7,318.1 L452.0,319.1 L452.2,320.1 L452.5,321.0 L452.8,322.0 L453.0,322.9 L453.3,323.9 L453.6,324.9 L453.9,325.8 L454.1,326.8 L454.4,327.8 L454.7,328.7 L455.0,329.7 L455.3,330.6 L455.6,331.6 L455.8,332.5 L456.1,333.5 L456.4,334.5 L456.7,335.4 L457.0,336.4 L457.3,337.3 L457.6,338.3 L457.9,339.3 L458.2,340.2 L458.5,341.2 L458.8,342.1 L459.1,343.1 L459.4,344.0 L459.7,345.0 L460.0,345.9 L460.3,346.9 L460.6,347.8 L460.9,348.8 L461.2,349.7 L461.5,350.7 L461.8,351.6 L462.1,352.6 L462.4,353.5 L462.8,354.5 L463.1,355.4 L463.4,356.4 L463.7,357.3 L464.0,358.3 L464.4,359.2 L464.7,360.2 L465.0,361.1 L465.3,362.1 L465.7,363.0 L466.0,364.0 L466.3,364.9 L466.7,365.8 L467.0,366.8 L467.4,367.7 L467.7,368.7 L468.0,369.6 L468.4,370.5 L468.7,371.5 L469.1,372.4 L469.4,373.4 L469.8,374.3 L470.1,375.2 L470.5,376.2 L470.8,377.1 L471.2,378.0 L471.5,379.0 L471.9,379.9 L472.3,380.8 L472.6,381.8 L473.0,382.7 L473.4,383.6 L473.7,384.6 L474.1,385.5 L474.5,386.4 L474.9,387.3 L475.2,388.3 L475.6,389.2 L476.0,390.1 L476.4,391.0 L476.8,392.0 L477.2,392.9 L477.5,393.8 L477.9,394.7 L478.3,395.6 L478.7,396.6 L479.1,397.5 L479.6,398.4 L480.0,399.3 L480.4,400.2 L480.8,401.1 L481.2,402.0 L481.6,402.9 L482.1,403.8 L482.5,404.7 L482.9,405.6 L483.3,406.5 L483.8,407.4 L484.2,408.3 L484.7,409.2 L485.1,410.1 L485.6,411.0 L486.0,411.9 L486.5,412.8 L487.0,413.7 L487.4,414.6 L487.9,415.4 L488.4,416.3 L488.9,417.2 L489.4,418.1 L489.9,418.9 L490.3,419.8 L490.8,420.7 L491.4,421.5 L491.9,422.4 L492.4,423.3 L492.9,424.1 L493.4,425.0 L494.0,425.8 L494.5,426.7 L495.0,427.5 L495.6,428.3 L496.1,429.2 L496.7,430.0 L497.3,430.8 L497.8,431.7 L498.4,432.5 L499.0,433.3 L499.6,434.1 L500.2,434.9 L500.7,435.7 L501.4,436.5 L502.0,437.3 L502.6,438.1 L503.2,438.9 L503.8,439.7 L504.5,440.4 L505.1,441.2 L505.8,442.0 L506.4,442.7 L507.1,443.5 L507.7,444.2 L508.4,444.9 L509.1,445.7 L509.8,446.4 L510.5,447.1 L511.2,447.8 L511.9,448.5 L512.6,449.2 L513.3,449.9 L514.1,450.6 L514.8,451.3 L515.5,452.0 L516.3,452.6 L517.0,453.3 L517.8,453.9 L518.6,454.6 L519.4,455.2 L520.1,455.8 L520.9,456.4 L521.7,457.0 L522.5,457.6 L523.4,458.2 L524.2,458.8 L525.0,459.3 L525.8,459.9 L526.7,460.4 L527.5,461.0 L528.4,461.5 L529.2,462.0 L530.1,462.5 L531.0,463.0 L531.8,463.5 L532.7,463.9 L533.6,464.4 L534.5,464.9 L535.4,465.3 L536.3,465.7 L537.2,466.2 L538.1,466.6 L539.0,467.0 L539.9,467.4 L540.9,467.8 L541.8,468.2 L542.7,468.6 L543.6,468.9 L544.6,469.3 L545.5,469.6 L546.4,470.0 L547.4,470.3 L548.3,470.6 L549.3,471.0 L550.2,471.3 L551.2,471.6 L552.1,471.9 L553.1,472.2 L554.1,472.5 L555.0,472.7 L556.0,473.0 L556.9,473.3 L557.9,473.5 L558.9,473.8 L559.8,474.0 L560.8,474.3 L561.8,474.5 L562.8,474.7 L563.7,474.9 L564.7,475.2 L565.7,475.4 L566.7,475.6 L567.7,475.8 L568.6,476.0 L569.6,476.2 L570.6,476.3 L571.6,476.5 L572.6,476.7 L573.6,476.9 L574.5,477.0 L575.5,477.2 L576.5,477.3 L577.5,477.5 L578.5,477.6 L579.5,477.8 L580.5,477.9 L581.5,478.0 L582.5,478.2 L583.5,478.3 L584.5,478.4 L585.4,478.5 L586.4,478.6 L587.4,478.7 L588.4,478.8 L589.4,478.9 L590.4,479.0 L591.4,479.1 L592.4,479.2 L593.4,479.3 L594.4,479.4 L595.4,479.4 L596.4,479.5 L597.4,479.6 L598.4,479.7 L599.4,479.7 L600.4,479.8 L601.4,479.8 L602.4,479.9 L603.4,479.9 L604.4,480.0 L605.4,480.0 L606.4,480.1 L607.4,480.1 L608.4,480.2 L609.4,480.2 L610.4,480.2 L611.4,480.3 L612.4,480.3 L613.4,480.3 L614.4,480.4 L615.4,480.4 L616.4,480.4 L617.4,480.4 L618.4,480.5 L619.4,480.5 L620.4,480.5 L621.4,480.5 L622.4,480.5 L623.4,480.5 L624.4,480.5 L625.4,480.5 L626.4,480.6 L627.4,480.6 L628.4,480.6 L629.4,480.6 L630.4,480.6 L631.4,480.6 L632.4,480.6 L633.4,480.6 L634.4,480.6 L635.4,480.6 L636.4,480.6 L637.4,480.6 L638.4,480.6 L639.4,480.6 L640.4,480.6 L641.4,480.6 L642.4,480.6 L643.4,480.6 L644.4,480.6 L645.4,480.6 L646.4,480.6 L647.4,480.6 L648.4,480.6 L649.4,480.7 L650.4,480.7 L651.4,480.7 L652.4,480.7 L653.4,480.7 L654.4,480.7 L655.4,480.7 L656.4,480.8 L657.4,480.8 L658.4,480.8 L659.4,480.8 L660.4,480.8 L661.4,480.9 L662.4,480.9 L663.4,480.9 L664.4,481.0 L665.4,481.0" stroke="#4444dc" stroke-width="1.6"/>
<path d="M100.0,458.6 L100.6,457.9 L101.1,457.0 L101.5,456.2 L102.0,455.3 L102.5,454.4 L102.9,453.5 L103.3,452.6 L103.8,451.7 L104.2,450.8 L104.6,449.8 L105.0,448.9 L105.4,448.0 L105.8,447.1 L106.1,446.2 L106.5,445.2 L106.9,444.3 L107.2,443.4 L107.6,442.4 L107.9,441.5 L108.2,440.5 L108.6,439.6 L108.9,438.7 L109.2,437.7 L109.5,436.8 L109.8,435.8 L110.1,434.8 L110.4,433.9 L110.7,432.9 L111.0,432.0 L111.3,431.0 L111.6,430.1 L111.9,429.1 L112.2,428.1 L112.4,427.2 L112.7,426.2 L113.0,425.3 L113.3,424.3 L113.5,423.3 L113.8,422.4 L114.1,421.4 L114.4,420.5 L114.6,419.5 L114.9,418.5 L115.2,417.6 L115.5,416.6 L115.8,415.7 L116.1,414.7 L116.4,413.8 L116.7,412.8 L117.0,411.9 L117.3,410.9 L117.7,410.0 L118.0,409.0 L118.3,408.0 L118.6,407.1 L118.9,406.1 L119.2,405.2 L119.5,404.3 L119.9,403.3 L120.2,402.4 L120.5,401.4 L120.9,400.5 L121.2,399.6 L121.6,398.6 L122.0,397.7 L122.3,396.8 L122.7,395.8 L123.1,394.9 L123.5,394.0 L123.9,393.1 L124.4,392.2 L124.8,391.3 L125.2,390.4 L125.7,389.5 L126.1,388.6 L126.6,387.7 L127.1,386.8 L127.6,386.0 L128.1,385.1 L128.6,384.2 L129.1,383.4 L129.6,382.5 L130.1,381.7 L130.6,380.8 L131.2,380.0 L131.7,379.1 L132.3,378.3 L132.8,377.5 L133.4,376.6 L133.9,375.8 L134.5,375.0 L135.1,374.2 L135.6,373.3 L136.2,372.5 L136.8,371.7 L137.4,370.9 L138.0,370.1 L138.6,369.3 L139.1,368.5 L139.7,367.6 L140.3,366.8 L140.9,366.0 L141.5,365.2 L142.1,364.4 L142.7,363.6 L143.3,362.8 L143.9,362.0 L144.4,361.2 L145.0,360.4 L145.6,359.6 L146.2,358.7 L146.8,357.9 L147.3,357.1 L147.9,356.3 L148.5,355.5 L149.1,354.6 L149.6,353.8 L150.2,353.0 L150.7,352.1 L151.3,351.3 L151.8,350.5 L152.4,349.6 L152.9,348.8 L153.4,347.9 L153.9,347.1 L154.4,346.2 L155.0,345.4 L155.5,344.5 L155.9,343.6 L156.4,342.7 L156.9,341.9 L157.4,341.0 L157.9,340.1 L158.3,339.2 L158.8,338.3 L159.3,337.5 L159.7,336.6 L160.2,335.7 L160.7,334.8 L161.2,333.9 L161.7,333.1 L162.2,332.2 L162.7,331.3 L163.2,330.5 L163.7,329.6 L164.3,328.8 L164.8,328.0 L165.4,327.1 L166.0,326.3 L166.6,325.6 L167.2,324.8 L167.9,324.0 L168.6,323.3 L169.3,322.6 L170.0,321.9 L170.7,321.2 L171.5,320.5 L172.3,319.9 L173.1,319.3 L173.9,318.8 L174.8,318.3 L175.7,317.8 L176.6,317.4 L177.5,317.1 L178.5,316.9 L179.5,316.8 L180.5,316.8 L181.5,316.9 L182.4,317.2 L183.4,317.6 L184.3,318.0 L185.1,318.5 L185.9,319.1 L186.8,319.7 L187.6,320.1 L188.5,320.6 L189.3,321.2 L190.1,321.9 L190.7,322.6 L191.3,323.4 L191.9,324.3 L192.4,325.1 L192.9,326.0 L193.4,326.9 L193.8,327.8 L194.3,328.7 L194.7,329.6 L195.2,330.5 L195.6,331.4 L196.0,332.3 L196.4,333.2 L196.8,334.1 L197.2,335.0 L197.6,335.9 L198.0,336.9 L198.4,337.8 L198.8,338.7 L199.2,339.6 L199.5,340.6 L199.9,341.5 L200.3,342.4 L200.7,343.3 L201.1,344.2 L201.5,345.2 L201.9,346.1 L202.3,347.0 L202.7,347.9 L203.1,348.8 L203.5,349.8 L203.9,350.7 L204.3,351.6 L204.7,352.5 L205.1,353.4 L205.5,354.3 L205.9,355.2 L206.3,356.1 L206.8,357.0 L207.2,357.9 L207.6,358.9 L208.0,359.8 L208.5,360.7 L208.9,361.6 L209.4,362.5 L209.8,363.3 L210.3,364.2 L210.7,365.1 L211.2,366.0 L211.6,366.9 L212.1,367.8 L212.5,368.7 L213.0,369.6 L213.5,370.5 L214.0,371.3 L214.4,372.2 L214.9,373.1 L215.4,374.0 L215.9,374.8 L216.4,375.7 L216.9,376.6 L217.4,377.5 L217.8,378.3 L218.3,379.2 L218.8,380.1 L219.3,381.0 L219.7,381.9 L220.2,382.7 L220.7,383.6 L221.2,384.5 L221.7,385.3 L222.3,386.2 L222.8,387.0 L223.4,387.8 L223.9,388.7 L224.5,389.5 L225.1,390.3 L225.7,391.1 L226.3,391.9 L226.9,392.7 L227.5,393.5 L228.1,394.3 L228.7,395.1 L229.3,395.9 L229.9,396.7 L230.6,397.4 L231.2,398.2 L231.9,399.0 L232.5,399.7 L233.2,400.4 L233.9,401.2 L234.6,401.9 L235.3,402.6 L236.0,403.3 L236.8,403.9 L237.5,404.6 L238.3,405.2 L239.1,405.8 L239.9,406.4 L240.8,406.9 L241.6,407.5 L242.5,407.9 L243.4,408.4 L244.3,408.8 L245.3,409.1 L246.2,409.4 L247.2,409.6 L248.2,409.8 L249.2,410.0 L250.2,410.1 L251.2,410.1 L252.2,410.1 L253.2,410.1 L254.2,410.0 L255.1,409.9 L256.1,409.7 L257.1,409.4 L258.1,409.2 L259.0,408.8 L259.9,408.4 L260.8,408.0 L261.7,407.6 L262.6,407.1 L263.4,406.5 L264.3,406.0 L265.1,405.4 L265.8,404.7 L266.6,404.1 L267.3,403.4 L268.1,402.7 L268.8,402.0 L269.4,401.3 L270.1,400.5 L270.7,399.7 L271.4,399.0 L272.0,398.2 L272.6,397.4 L273.1,396.5 L273.7,395.7 L274.2,394.9 L274.8,394.0 L275.3,393.2 L275.8,392.3 L276.3,391.4 L276.8,390.6 L277.2,389.7 L277.7,388.8 L278.1,387.9 L278.6,387.0 L279.0,386.1 L279.4,385.2 L279.8,384.3 L280.2,383.3 L280.6,382.4 L281.0,381.5 L281.4,380.6 L281.8,379.7 L282.2,378.7 L282.5,377.8 L282.9,376.9 L283.3,375.9 L283.6,375.0 L284.0,374.1 L284.4,373.1 L284.7,372.2 L285.1,371.3 L285.4,370.3 L285.8,369.4 L286.1,368.5 L286.4,367.5 L286.8,366.6 L287.1,365.6 L287.4,364.7 L287.8,363.8 L288.1,362.8 L288.4,361.9 L288.7,360.9 L289.1,360.0 L289.4,359.0 L289.7,358.1 L290.0,357.1 L290.3,356.2 L290.6,355.2 L290.9,354.2 L291.2,353.3 L291.5,352.3 L291.8,351.4 L292.1,350.4 L292.4,349.5 L292.6,348.5 L292.9,347.5 L293.2,346.6 L293.5,345.6 L293.7,344.7 L294.0,343.7 L294.3,342.7 L294.5,341.8 L294.8,340.8 L295.1,339.8 L295.3,338.9 L295.6,337.9 L295.8,336.9 L296.1,336.0 L296.3,335.0 L296.6,334.0 L296.8,333.1 L297.1,332.1 L297.3,331.1 L297.6,330.1 L297.8,329.2 L298.0,328.2 L298.3,327.2 L298.5,326.3 L298.7,325.3 L298.9,324.3 L299.2,323.3 L299.4,322.4 L299.6,321.4 L299.8,320.4 L300.0,319.4 L300.3,318.5 L300.5,317.5 L300.7,316.5 L300.9,315.5 L301.1,314.5 L301.3,313.6 L301.5,312.6 L301.7,311.6 L301.9,310.6 L302.1,309.6 L302.3,308.7 L302.5,307.7 L302.7,306.7 L302.9,305.7 L303.1,304.7 L303.3,303.8 L303.5,302.8 L303.7,301.8 L303.9,300.8 L304.1,299.8 L304.2,298.9 L304.4,297.9 L304.6,296.9 L304.8,295.9 L305.0,294.9 L305.2,293.9 L305.3,293.0 L305.5,292.0 L305.7,291.0 L305.9,290.0 L306.0,289.0 L306.2,288.0 L306.4,287.0 L306.6,286.1 L306.7,285.1 L306.9,284.1 L307.1,283.1 L307.3,282.1 L307.4,281.1 L307.6,280.1 L307.8,279.2 L307.9,278.2 L308.1,277.2 L308.3,276.2 L308.4,275.2 L308.6,274.2 L308.8,273.2 L308.9,272.3 L309.1,271.3 L309.3,270.3 L309.4,269.3 L309.6,268.3 L309.8,267.3 L309.9,266.3 L310.1,265.4 L310.2,264.4 L310.4,263.4 L310.6,262.4 L310.7,261.4 L310.9,260.4 L311.1,259.4 L311.2,258.4 L311.4,257.5 L311.6,256.5 L311.7,255.5 L311.9,254.5 L312.0,253.5 L312.2,252.5 L312.4,251.5 L312.5,250.5 L312.7,249.6 L312.9,248.6 L313.0,247.6 L313.2,246.6 L313.4,245.6 L313.5,244.6 L313.7,243.6 L313.8,242.7 L314.0,241.7 L314.2,240.7 L314.3,239.7 L314.5,238.7 L314.7,237.7 L314.8,236.7 L315.0,235.7 L315.2,234.8 L315.3,233.8 L315.5,232.8 L315.7,231.8 L315.8,230.8 L316.0,229.8 L316.2,228.8 L316.3,227.9 L316.5,226.9 L316.7,225.9 L316.8,224.9 L317.0,223.9 L317.2,222.9 L317.3,221.9 L317.5,221.0 L317.7,220.0 L317.8,219.0 L318.0,218.0 L318.2,217.0 L318.3,216.0 L318.5,215.0 L318.7,214.1 L318.8,213.1 L319.0,212.1 L319.2,211.1 L319.3,210.1 L319.5,209.1 L319.7,208.1 L319.8,207.2 L320.0,206.2 L320.2,205.2 L320.4,204.2 L320.5,203.2 L320.7,202.2 L320.9,201.2 L321.0,200.3 L321.2,199.3 L321.4,198.3 L321.6,197.3 L321.7,196.3 L321.9,195.3 L322.1,194.3 L322.3,193.4 L322.4,192.4 L322.6,191.4 L322.8,190.4 L323.0,189.4 L323.1,188.4 L323.3,187.4 L323.5,186.5 L323.7,185.5 L323.8,184.5 L324.0,183.5 L324.2,182.5 L324.4,181.5 L324.5,180.6 L324.7,179.6 L324.9,178.6 L325.1,177.6 L325.3,176.6 L325.4,175.6 L325.6,174.7 L325.8,173.7 L326.0,172.7 L326.2,171.7 L326.3,170.7 L326.5,169.7 L326.7,168.8 L326.9,167.8 L327.1,166.8 L327.3,165.8 L327.4,164.8 L327.6,163.8 L327.8,162.9 L328.0,161.9 L328.2,160.9 L328.4,159.9 L328.6,158.9 L328.7,157.9 L328.9,157.0 L329.1,156.0 L329.3,155.0 L329.5,154.0 L329.7,153.0 L329.9,152.0 L330.1,151.1 L330.3,150.1 L330.4,149.1 L330.6,148.1 L330.8,147.1 L331.0,146.2 L331.2,145.2 L331.4,144.2 L331.6,143.2 L331.8,142.2 L332.0,141.2 L332.2,140.3 L332.4,139.3 L332.6,138.3 L332.8,137.3 L333.0,136.3 L333.2,135.4 L333.4,134.4 L333.6,133.4 L333.8,132.4 L334.0,131.4 L334.2,130.5 L334.4,129.5 L334.6,128.5 L334.8,127.5 L335.0,126.5 L335.2,125.6 L335.4,124.6 L335.6,123.6 L335.8,122.6 L336.0,121.7 L336.2,120.7 L336.4,119.7 L336.7,118.7 L336.9,117.7 L337.1,116.8 L337.3,115.8 L337.5,114.8 L337.7,113.8 L337.9,112.9 L338.1,111.9 L338.3,110.9 L338.6,109.9 L338.8,108.9 L339.0,108.0 L339.2,107.0 L339.4,106.0 L339.6,105.0 L339.9,104.1 L340.1,103.1 L340.3,102.1 L340.5,101.1 L340.7,100.2 L341.0,99.2 L341.2,98.2 L341.4,97.2 L341.6,96.3 L341.9,95.3 L342.1,94.3 L342.3,93.3 L342.5,92.4 L342.8,91.4 L343.0,90.4 L343.2,89.4 L343.5,88.5 L343.7,87.5 L343.9,86.5 L344.2,85.6 L344.4,84.6 L344.6,83.6 L344.9,82.6 L345.1,81.7 L345.3,80.7 L345.6,79.7 L345.8,78.8 L346.1,77.8 L346.3,76.8 L346.5,75.8 L346.8,74.9 L347.0,73.9 L347.3,72.9 L347.5,72.0 L347.8,71.0 L348.0,70.0 L348.3,69.1 L348.5,68.1 L348.8,67.1 L349.0,66.1 L349.3,65.2 L349.6,64.2 L349.8,63.3 L350.1,62.3 L350.4,61.3 L350.7,60.4 L350.9,59.4 L351.2,58.5 L351.5,57.5 L351.8,56.6 L352.1,55.6 L352.5,54.7 L352.8,53.7 L353.1,52.8 L353.5,51.8 L353.8,50.9 L354.2,49.9 L354.5,49.0 L354.9,48.1 L355.3,47.2 L355.6,46.2 L356.0,45.3 L356.4,44.4 L356.8,43.5 L357.2,42.6 L357.7,41.7 L358.1,40.8 L358.6,39.9 L359.1,39.0 L359.6,38.1 L360.1,37.3 L360.6,36.4 L361.2,35.6 L361.8,34.8 L362.5,34.1 L363.2,33.4 L363.9,32.7 L364.8,32.1 L365.6,31.7 L366.6,31.3 L367.6,31.1 L368.6,31.1 L369.6,31.2 L370.5,31.4 L371.5,31.6 L372.4,32.0 L373.3,32.5 L374.2,33.0 L375.0,33.5 L375.8,34.1 L376.5,34.8 L377.3,35.5 L377.9,36.2 L378.6,37.0 L379.2,37.8 L379.7,38.6 L380.3,39.5 L380.7,40.4 L381.2,41.3 L381.7,42.1 L382.1,43.1 L382.5,44.0 L382.9,44.9 L383.2,45.8 L383.6,46.8 L383.9,47.7 L384.3,48.6 L384.6,49.6 L384.9,50.5 L385.3,51.5 L385.6,52.4 L385.9,53.4 L386.3,54.3 L386.6,55.2 L386.9,56.2 L387.3,57.1 L387.6,58.1 L387.9,59.0 L388.2,60.0 L388.6,60.9 L388.9,61.9 L389.2,62.8 L389.5,63.8 L389.8,64.7 L390.1,65.7 L390.4,66.6 L390.8,67.6 L391.1,68.5 L391.4,69.5 L391.7,70.4 L392.0,71.4 L392.3,72.3 L392.6,73.3 L393.0,74.2 L393.3,75.1 L393.7,76.1 L394.0,77.0 L394.4,77.9 L394.8,78.9 L395.2,79.8 L395.5,80.7 L395.9,81.7 L396.2,82.6 L396.6,83.5 L396.9,84.5 L397.2,85.4 L397.5,86.4 L397.8,87.3 L398.1,88.3 L398.4,89.2 L398.7,90.2 L399.0,91.2 L399.2,92.1 L399.5,93.1 L399.7,94.1 L400.0,95.0 L400.2,96.0 L400.5,97.0 L400.7,98.0 L400.9,98.9 L401.2,99.9 L401.4,100.9 L401.6,101.8 L401.9,102.8 L402.1,103.8 L402.4,104.8 L402.6,105.7 L402.8,106.7 L403.1,107.7 L403.3,108.6 L403.5,109.6 L403.8,110.6 L404.0,111.6 L404.2,112.5 L404.4,113.5 L404.7,114.5 L404.9,115.5 L405.1,116.4 L405.3,117.4 L405.6,118.4 L405.8,119.4 L406.0,120.3 L406.3,121.3 L406.5,122.3 L406.7,123.3 L406.9,124.2 L407.1,125.2 L407.4,126.2 L407.6,127.2 L407.8,128.1 L408.0,129.1 L408.3,130.1 L408.5,131.1 L408.7,132.0 L408.9,133.0 L409.1,134.0 L409.4,135.0 L409.6,135.9 L409.8,136.9 L410.0,137.9 L410.2,138.9 L410.4,139.8 L410.7,140.8 L410.9,141.8 L411.1,142.8 L411.3,143.7 L411.5,144.7 L411.8,145.7 L412.0,146.7 L412.2,147.7 L412.4,148.6 L412.6,149.6 L412.8,150.6 L413.1,151.6 L413.3,152.5 L413.5,153.5 L413.7,154.5 L413.9,155.5 L414.1,156.4 L414.4,157.4 L414.6,158.4 L414.8,159.4 L415.0,160.3 L415.2,161.3 L415.4,162.3 L415.7,163.3 L415.9,164.3 L416.1,165.2 L416.3,166.2 L416.5,167.2 L416.7,168.2 L416.9,169.1 L417.2,170.1 L417.4,171.1 L417.6,172.1 L417.8,173.0 L418.0,174.0 L418.2,175.0 L418.4,176.0 L418.7,177.0 L418.9,177.9 L419.1,178.9 L419.3,179.9 L419.5,180.9 L419.7,181.8 L420.0,182.8 L420.2,183.8 L420.4,184.8 L420.6,185.7 L420.8,186.7 L421.0,187.7 L421.2,188.7 L421.5,189.7 L421.7,190.6 L421.9,191.6 L422.1,192.6 L422.3,193.6 L422.5,194.5 L422.7,195.5 L423.0,196.5 L423.2,197.5 L423.4,198.4 L423.6,199.4 L423.8,200.4 L424.0,201.4 L424.2,202.4 L424.5,203.3 L424.7,204.3 L424.9,205.3 L425.1,206.3 L425.3,207.2 L425.5,208.2 L425.8,209.2 L426.0,210.2 L426.2,211.1 L426.4,212.1 L426.6,213.1 L426.8,214.1 L427.1,215.0 L427.3,216.0 L427.5,217.0 L427.7,218.0 L427.9,219.0 L428.1,219.9 L428.4,220.9 L428.6,221.9 L428.8,222.9 L429.0,223.8 L429.2,224.8 L429.4,225.8 L429.7,226.8 L429.9,227.7 L430.1,228.7 L430.3,229.7 L430.5,230.7 L430.8,231.6 L431.0,232.6 L431.2,233.6 L431.4,234.6 L431.6,235.5 L431.8,236.5 L432.1,237.5 L432.3,238.5 L432.5,239.5 L432.7,240.4 L432.9,241.4 L433.2,242.4 L433.4,243.4 L433.6,244.3 L433.8,245.3 L434.1,246.3 L434.3,247.3 L434.5,248.2 L434.7,249.2 L434.9,250.2 L435.2,251.2 L435.4,252.1 L435.6,253.1 L435.8,254.1 L436.1,255.1 L436.3,256.0 L436.5,257.0 L436.7,258.0 L437.0,259.0 L437.2,259.9 L437.4,260.9 L437.6,261.9 L437.9,262.9 L438.1,263.8 L438.3,264.8 L438.5,265.8 L438.8,266.7 L439.0,267.7 L439.2,268.7 L439.5,269.7 L439.7,270.6 L439.9,271.6 L440.1,272.6 L440.4,273.6 L440.6,274.5 L440.8,275.5 L441.1,276.5 L441.3,277.5 L441.5,278.4 L441.8,279.4 L442.0,280.4 L442.2,281.3 L442.5,282.3 L442.7,283.3 L442.9,284.3 L443.2,285.2 L443.4,286.2 L443.7,287.2 L443.9,288.1 L444.1,289.1 L444.4,290.1 L444.6,291.1 L444.9,292.0 L445.1,293.0 L445.3,294.0 L445.6,294.9 L445.8,295.9 L446.1,296.9 L446.3,297.9 L446.6,298.8 L446.8,299.8 L447.1,300.8 L447.3,301.7 L447.6,302.7 L447.8,303.7 L448.1,304.6 L448.3,305.6 L448.6,306.6 L448.8,307.5 L449.1,308.5 L449.3,309.5 L449.6,310.4 L449.9,311.4 L450.1,312.4 L450.4,313.3 L450.6,314.3 L450.9,315.3 L451.2,316.2 L451.4,317.2 L451.7,318.2 L452.0,319.1 L452.2,320.1 L452.5,321.0 L452.8,322.0 L453.1,323.0 L453.3,323.9 L453.6,324.9 L453.9,325.9 L454.2,326.8 L454.4,327.8 L454.7,328.7 L455.0,329.7 L455.3,330.7 L455.6,331.6 L455.8,332.6 L456.1,333.5 L456.4,334.5 L456.7,335.4 L457.0,336.4 L457.3,337.4 L457.6,338.3 L457.9,339.3 L458.2,340.2 L458.5,341.2 L458.8,342.1 L459.1,343.1 L459.4,344.1 L459.7,345.0 L460.0,346.0 L460.3,346.9 L460.6,347.9 L460.9,348.8 L461.2,349.8 L461.5,350.7 L461.8,351.7 L462.1,352.6 L462.4,353.6 L462.8,354.5 L463.1,355.5 L463.4,356.4 L463.7,357.4 L464.0,358.3 L464.4,359.3 L464.7,360.2 L465.0,361.1 L465.4,362.1 L465.7,363.0 L466.0,364.0 L466.3,364.9 L466.7,365.9 L467.0,366.8 L467.4,367.7 L467.7,368.7 L468.0,369.6 L468.4,370.6 L468.7,371.5 L469.1,372.4 L469.4,373.4 L469.8,374.3 L470.1,375.2 L470.5,376.2 L470.8,377.1 L471.2,378.1 L471.6,379.0 L471.9,379.9 L472.3,380.9 L472.6,381.8 L473.0,382.7 L473.4,383.6 L473.7,384.6 L474.1,385.5 L474.5,386.4 L474.9,387.4 L475.2,388.3 L475.6,389.2 L476.0,390.1 L476.4,391.1 L476.8,392.0 L477.2,392.9 L477.6,393.8 L478.0,394.7 L478.4,395.7 L478.8,396.6 L479.2,397.5 L479.6,398.4 L480.0,399.3 L480.4,400.2 L480.8,401.1 L481.2,402.0 L481.6,403.0 L482.1,403.9 L482.5,404.8 L482.9,405.7 L483.4,406.6 L483.8,407.5 L484.2,408.4 L484.7,409.3 L485.1,410.1 L485.6,411.0 L486.0,411.9 L486.5,412.8 L487.0,413.7 L487.4,414.6 L487.9,415.5 L488.4,416.3 L488.9,417.2 L489.4,418.1 L489.9,419.0 L490.4,419.8 L490.9,420.7 L491.4,421.6 L491.9,422.4 L492.4,423.3 L492.9,424.1 L493.4,425.0 L494.0,425.8 L494.5,426.7 L495.0,427.5 L495.6,428.4 L496.1,429.2 L496.7,430.0 L497.3,430.8 L497.8,431.7 L498.4,432.5 L499.0,433.3 L499.6,434.1 L500.2,434.9 L500.8,435.7 L501.4,436.5 L502.0,437.3 L502.6,438.1 L503.2,438.9 L503.8,439.7 L504.5,440.4 L505.1,441.2 L505.8,442.0 L506.4,442.7 L507.1,443.5 L507.7,444.2 L508.4,445.0 L509.1,445.7 L509.8,446.4 L510.5,447.1 L511.2,447.8 L511.9,448.5 L512.6,449.2 L513.3,449.9 L514.1,450.6 L514.8,451.3 L515.5,452.0 L516.3,452.6 L517.1,453.3 L517.8,453.9 L518.6,454.6 L519.4,455.2 L520.2,455.8 L520.9,456.4 L521.7,457.0 L522.6,457.6 L523.4,458.2 L524.2,458.8 L525.0,459.3 L525.8,459.9 L526.7,460.4 L527.5,461.0 L528.4,461.5 L529.2,462.0 L530.1,462.5 L531.0,463.0 L531.9,463.5 L532.7,463.9 L533.6,464.4 L534.5,464.9 L535.4,465.3 L536.3,465.8 L537.2,466.2 L538.1,466.6 L539.0,467.0 L539.9,467.4 L540.9,467.8 L541.8,468.2 L542.7,468.6 L543.6,468.9 L544.6,469.3 L545.5,469.6 L546.5,470.0 L547.4,470.3 L548.3,470.6 L549.3,471.0 L550.2,471.3 L551.2,471.6 L552.2,471.9 L553.1,472.2 L554.1,472.5 L555.0,472.7 L556.0,473.0 L557.0,473.3 L557.9,473.5 L558.9,473.8 L559.9,474.0 L560.8,474.3 L561.8,474.5 L562.8,474.7 L563.8,475.0 L564.7,475.2 L565.7,475.4 L566.7,475.6 L567.7,475.8 L568.6,476.0 L569.6,476.2 L570.6,476.3 L571.6,476.5 L572.6,476.7 L573.6,476.9 L574.6,477.0 L575.5,477.2 L576.5,477.3 L577.5,477.5 L578.5,477.6 L579.5,477.8 L580.5,477.9 L581.5,478.0 L582.5,478.2 L583.5,478.3 L584.5,478.4 L585.5,478.5 L586.5,478.6 L587.4,478.7 L588.4,478.8 L589.4,478.9 L590.4,479.0 L591.4,479.1 L592.4,479.2 L593.4,479.3 L594.4,479.4 L595.4,479.4 L596.4,479.5 L597.4,479.6 L598.4,479.7 L599.4,479.7 L600.4,479.8 L601.4,479.8 L602.4,479.9 L603.4,479.9 L604.4,480.0 L605.4,480.0 L606.4,480.1 L607.4,480.1 L608.4,480.2 L609.4,480.2 L610.4,480.2 L611.4,480.3 L612.4,480.3 L613.4,480.3 L614.4,480.4 L615.4,480.4 L616.4,480.4 L617.4,480.4 L618.4,480.5 L619.4,480.5 L620.4,480.5 L621.4,480.5 L622.4,480.5 L623.4,480.5 L624.4,480.5 L625.4,480.5 L626.4,480.6 L627.4,480.6 L628.4,480.6 L629.4,480.6 L630.4,480.6 L631.4,480.6 L632.4,480.6 L633.4,480.6 L634.4,480.6 L635.4,480.6 L636.4,480.6 L637.4,480.6 L638.4,480.6 L639.4,480.6 L640.4,480.6 L641.4,480.6 L642.4,480.6 L643.4,480.6 L644.4,480.6 L645.4,480.6 L646.4,480.6 L647.4,480.6 L648.4,480.6 L649.4,480.7 L650.4,480.7 L651.4,480.7 L652.4,480.7 L653.4,480.7 L654.4,480.7 L655.4,480.7 L656.4,480.8 L657.4,480.8 L658.4,480.8 L659.4,480.8 L660.4,480.8 L661.4,480.9 L662.4,480.9 L663.4,480.9 L664.4,481.0 L665.4,481.0" stroke="#2c2c34" stroke-width="1.3"/>
</g>
<g stroke="#8e4068" stroke-width="1.3" fill="none">
<line x1="174.7" y1="350.1" x2="174.7" y2="484.2" stroke-dasharray="9.6 3.2 1.6 3.55"/>
<line x1="262" y1="436.7" x2="262" y2="484.2" stroke-dasharray="9.7 3.4"/>
<line x1="371.7" y1="25.4" x2="371.7" y2="484.2" stroke-dasharray="9.8 3.44"/>
</g>
<g stroke="#333" stroke-width="1.3">
<line x1="146.9" y1="484.2" x2="146.9" y2="481.7"/><line x1="146.9" y1="17.0" x2="146.9" y2="19.5"/><line x1="194.0" y1="484.2" x2="194.0" y2="479.7"/><line x1="194.0" y1="17.0" x2="194.0" y2="21.5"/><line x1="241.2" y1="484.2" x2="241.2" y2="481.7"/><line x1="241.2" y1="17.0" x2="241.2" y2="19.5"/><line x1="288.4" y1="484.2" x2="288.4" y2="479.7"/><line x1="288.4" y1="17.0" x2="288.4" y2="21.5"/><line x1="335.5" y1="484.2" x2="335.5" y2="481.7"/><line x1="335.5" y1="17.0" x2="335.5" y2="19.5"/><line x1="382.7" y1="484.2" x2="382.7" y2="479.7"/><line x1="382.7" y1="17.0" x2="382.7" y2="21.5"/><line x1="429.9" y1="484.2" x2="429.9" y2="481.7"/><line x1="429.9" y1="17.0" x2="429.9" y2="19.5"/><line x1="477.0" y1="484.2" x2="477.0" y2="479.7"/><line x1="477.0" y1="17.0" x2="477.0" y2="21.5"/><line x1="524.2" y1="484.2" x2="524.2" y2="481.7"/><line x1="524.2" y1="17.0" x2="524.2" y2="19.5"/><line x1="571.4" y1="484.2" x2="571.4" y2="479.7"/><line x1="571.4" y1="17.0" x2="571.4" y2="21.5"/><line x1="618.5" y1="484.2" x2="618.5" y2="481.7"/><line x1="618.5" y1="17.0" x2="618.5" y2="19.5"/><line x1="101.4" y1="481.6" x2="106.4" y2="481.6"/><line x1="664.0" y1="481.6" x2="659.0" y2="481.6"/><line x1="101.4" y1="435.0" x2="104.4" y2="435.0"/><line x1="664.0" y1="435.0" x2="661.0" y2="435.0"/><line x1="101.4" y1="388.4" x2="106.4" y2="388.4"/><line x1="664.0" y1="388.4" x2="659.0" y2="388.4"/><line x1="101.4" y1="341.8" x2="104.4" y2="341.8"/><line x1="664.0" y1="341.8" x2="661.0" y2="341.8"/><line x1="101.4" y1="295.2" x2="106.4" y2="295.2"/><line x1="664.0" y1="295.2" x2="659.0" y2="295.2"/><line x1="101.4" y1="248.6" x2="104.4" y2="248.6"/><line x1="664.0" y1="248.6" x2="661.0" y2="248.6"/><line x1="101.4" y1="202.0" x2="106.4" y2="202.0"/><line x1="664.0" y1="202.0" x2="659.0" y2="202.0"/><line x1="101.4" y1="155.4" x2="104.4" y2="155.4"/><line x1="664.0" y1="155.4" x2="661.0" y2="155.4"/><line x1="101.4" y1="108.8" x2="106.4" y2="108.8"/><line x1="664.0" y1="108.8" x2="659.0" y2="108.8"/><line x1="101.4" y1="62.2" x2="104.4" y2="62.2"/><line x1="664.0" y1="62.2" x2="661.0" y2="62.2"/>
</g>
<rect x="99.9" y="15.5" width="565.6" height="470.2" fill="none" stroke="#000" stroke-width="3"/>
<g transform="translate(89.7 487.0) scale(1.18 1)"><text x="0" y="0" class="tl" text-anchor="middle">0</text></g><g transform="translate(50.6 393.8) scale(1.18 1)"><polygon points="5.59,0.00 4.27,0.00 4.27,-8.40 3.79,-7.95 1.64,-6.78 1.64,-8.05 2.59,-8.50 3.95,-9.75 4.74,-10.74 5.59,-10.74" fill="#111" stroke="#111" stroke-width="0.25"/><polygon points="19.79,0.00 18.47,0.00 18.47,-8.40 17.99,-7.95 15.83,-6.78 15.83,-8.05 16.79,-8.50 18.14,-9.75 18.94,-10.74 19.79,-10.74" fill="#111" stroke="#111" stroke-width="0.25"/><text x="22.54" y="0" class="tl">0</text><text x="31.8" y="-9" class="sup">4</text></g><g transform="translate(50.6 300.6) scale(1.18 1)"><text x="0" y="0" class="tl">2</text><polygon points="19.79,0.00 18.47,0.00 18.47,-8.40 17.99,-7.95 15.83,-6.78 15.83,-8.05 16.79,-8.50 18.14,-9.75 18.94,-10.74 19.79,-10.74" fill="#111" stroke="#111" stroke-width="0.25"/><text x="22.54" y="0" class="tl">0</text><text x="31.8" y="-9" class="sup">4</text></g><g transform="translate(50.6 207.3) scale(1.18 1)"><text x="0" y="0" class="tl">3</text><polygon points="19.79,0.00 18.47,0.00 18.47,-8.40 17.99,-7.95 15.83,-6.78 15.83,-8.05 16.79,-8.50 18.14,-9.75 18.94,-10.74 19.79,-10.74" fill="#111" stroke="#111" stroke-width="0.25"/><text x="22.54" y="0" class="tl">0</text><text x="31.8" y="-9" class="sup">4</text></g><g transform="translate(50.6 114.2) scale(1.18 1)"><text x="0" y="0" class="tl">4</text><polygon points="19.79,0.00 18.47,0.00 18.47,-8.40 17.99,-7.95 15.83,-6.78 15.83,-8.05 16.79,-8.50 18.14,-9.75 18.94,-10.74 19.79,-10.74" fill="#111" stroke="#111" stroke-width="0.25"/><text x="22.54" y="0" class="tl">0</text><text x="31.8" y="-9" class="sup">4</text></g><g transform="translate(50.6 20.0) scale(1.18 1)"><text x="0" y="0" class="tl">5</text><polygon points="19.79,0.00 18.47,0.00 18.47,-8.40 17.99,-7.95 15.83,-6.78 15.83,-8.05 16.79,-8.50 18.14,-9.75 18.94,-10.74 19.79,-10.74" fill="#111" stroke="#111" stroke-width="0.25"/><text x="22.54" y="0" class="tl">0</text><text x="31.8" y="-9" class="sup">4</text></g>
<g transform="translate(99.0 505.6) scale(1.3 1)"><text x="0" y="0" class="xl" text-anchor="middle">200</text></g><g transform="translate(193.3 505.6) scale(1.3 1)"><text x="0" y="0" class="xl" text-anchor="middle">250</text></g><g transform="translate(287.7 505.6) scale(1.3 1)"><text x="0" y="0" class="xl" text-anchor="middle">300</text></g><g transform="translate(382.0 505.6) scale(1.3 1)"><text x="0" y="0" class="xl" text-anchor="middle">350</text></g><g transform="translate(476.3 505.6) scale(1.3 1)"><text x="0" y="0" class="xl" text-anchor="middle">400</text></g><g transform="translate(570.7 505.6) scale(1.3 1)"><text x="0" y="0" class="xl" text-anchor="middle">450</text></g><g transform="translate(665.0 505.6) scale(1.3 1)"><text x="0" y="0" class="xl" text-anchor="middle">500</text></g>
<g transform="translate(181.6 449) scale(0.92 1)"><text x="0" y="0" class="ab">a</text></g>
<g transform="translate(270 449) scale(1 1)"><text x="0" y="0" class="ab">b</text></g>
<g transform="translate(383.2 449) scale(0.88 1)"><text x="0" y="0" class="ab">c</text></g>
<!-- legend -->
<rect x="467.5" y="39.2" width="149.5" height="70" rx="1" fill="#fff" stroke="#444" stroke-width="1.6"/>
<line x1="479.7" y1="56.5" x2="534.2" y2="56.5" stroke="#404040" stroke-width="1.5"/>
<line x1="479.7" y1="74.5" x2="534.2" y2="74.5" stroke="#4848d8" stroke-width="1.5"/>
<line x1="479.7" y1="92.8" x2="534.2" y2="92.8" stroke="#c87070" stroke-width="1.5"/>
<g transform="translate(539.5 0) scale(1.24 1)">
<text x="0" y="61.8" class="lg" fill="#111" stroke="#111" stroke-width="0.3">water</text>
<text x="0" y="80" class="lg" fill="#1414c8" stroke="#1414c8" stroke-width="0.3">dioxane</text>
<text x="0" y="98.7" class="lg" fill="#a81018" stroke="#a81018" stroke-width="0.3">vacuum</text>
</g>
<!-- axis titles -->
<g transform="translate(285.5 531.5) scale(1.35 1)"><text x="0" y="0" font-size="20.5" font-weight="bold" fill="#000">wavelength (nm)</text></g>
<g transform="translate(22.3 310.5) scale(1.15 1) rotate(-90)"><text x="0" y="0" font-size="18.5" font-weight="bold" fill="#000">intensity (a.u.)</text></g>
</svg>
</body></html>
